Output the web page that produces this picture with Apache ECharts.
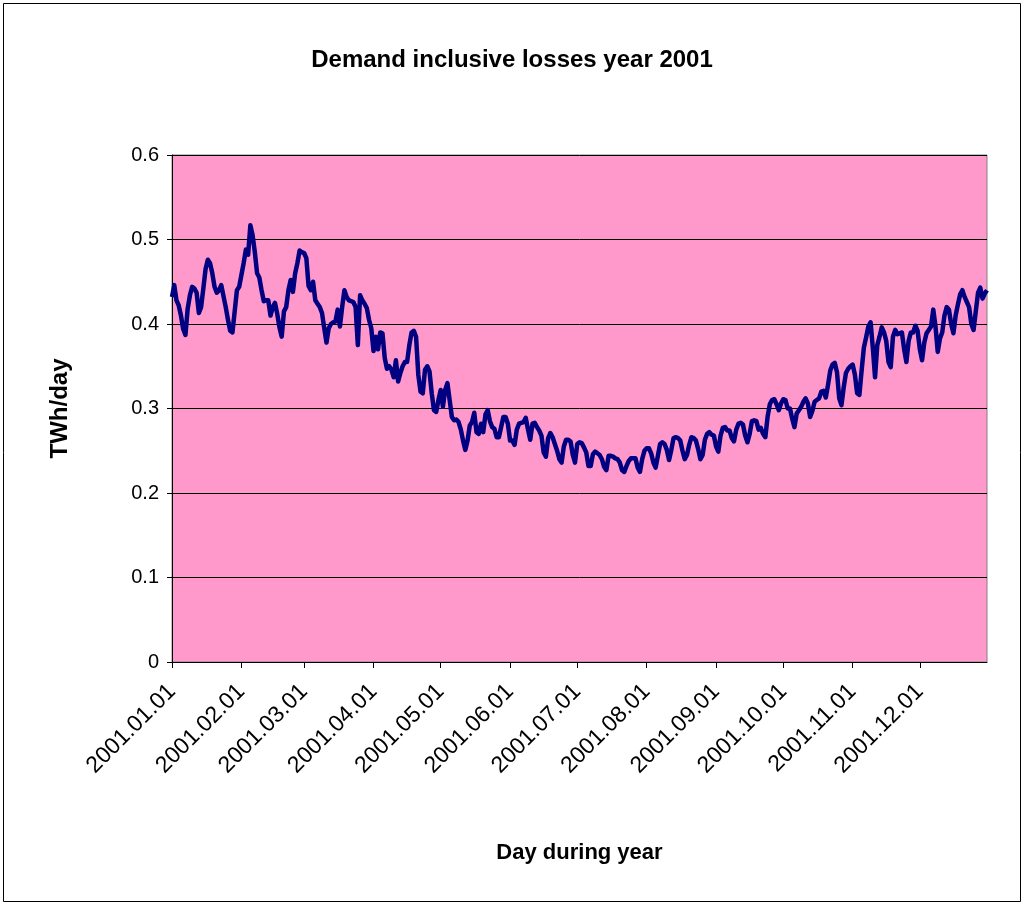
<!DOCTYPE html>
<html>
<head>
<meta charset="utf-8">
<script src="https://cdn.jsdelivr.net/npm/echarts@6/dist/echarts.min.js"></script>
<style>
  html, body { margin: 0; padding: 0; background: #fff; }
  #chart { width: 1024px; height: 905px; }
</style>
</head>
<body>
<div id="chart"></div>
<script>
// daily demand incl. losses, TWh/day
var jan = [0.432,0.446,0.428,0.422,0.410,0.394,0.387,0.418,0.434,0.444,0.442,0.437,0.413,0.420,0.442,0.465,0.476,0.472,0.460,0.444,0.437,0.440,0.446,0.433,0.420,0.405,0.392,0.390,0.415,0.440,0.444];
var feb = [0.458,0.472,0.488,0.482,0.517,0.505,0.485,0.460,0.455,0.440,0.427,0.428,0.428,0.410,0.420,0.425,0.412,0.396,0.385,0.415,0.420,0.440,0.452,0.438,0.460,0.472,0.487,0.485];
var mar = [0.484,0.478,0.445,0.440,0.450,0.428,0.424,0.420,0.413,0.395,0.378,0.395,0.400,0.402,0.403,0.417,0.397,0.420,0.440,0.432,0.428,0.427,0.426,0.420,0.375,0.434,0.428,0.424,0.419,0.405,0.395];
var apr = [0.368,0.385,0.370,0.390,0.389,0.360,0.347,0.350,0.346,0.337,0.357,0.332,0.342,0.350,0.355,0.355,0.375,0.390,0.392,0.385,0.340,0.320,0.318,0.346,0.350,0.344,0.318,0.298,0.296,0.310];
var may = [0.322,0.302,0.322,0.330,0.310,0.290,0.286,0.287,0.284,0.275,0.262,0.251,0.262,0.280,0.284,0.295,0.272,0.270,0.282,0.272,0.293,0.298,0.285,0.278,0.276,0.266,0.266,0.278,0.290,0.290,0.282];
var jun = [0.262,0.262,0.257,0.275,0.282,0.283,0.284,0.289,0.275,0.263,0.282,0.283,0.278,0.274,0.268,0.248,0.243,0.265,0.271,0.266,0.258,0.250,0.240,0.236,0.255,0.263,0.263,0.261,0.245,0.236];
var jul = [0.258,0.260,0.259,0.254,0.248,0.232,0.232,0.246,0.249,0.247,0.245,0.240,0.231,0.227,0.244,0.244,0.243,0.241,0.240,0.236,0.227,0.225,0.232,0.238,0.241,0.241,0.241,0.230,0.225,0.240,0.250];
var aug = [0.253,0.253,0.247,0.236,0.230,0.244,0.258,0.260,0.258,0.251,0.239,0.251,0.265,0.266,0.265,0.262,0.250,0.240,0.245,0.257,0.266,0.265,0.262,0.252,0.240,0.245,0.263,0.270,0.272,0.269,0.268];
var sep = [0.255,0.249,0.268,0.277,0.278,0.274,0.274,0.265,0.261,0.275,0.282,0.283,0.281,0.268,0.260,0.270,0.285,0.286,0.285,0.275,0.277,0.270,0.266,0.290,0.305,0.310,0.311,0.305,0.298,0.306];
var oct = [0.311,0.310,0.300,0.300,0.288,0.278,0.294,0.298,0.302,0.308,0.312,0.306,0.290,0.297,0.308,0.310,0.312,0.320,0.321,0.313,0.328,0.345,0.352,0.354,0.343,0.312,0.304,0.325,0.342,0.347,0.350];
var nov = [0.352,0.340,0.318,0.316,0.345,0.372,0.384,0.397,0.402,0.372,0.337,0.375,0.385,0.396,0.390,0.380,0.355,0.349,0.385,0.393,0.388,0.389,0.390,0.370,0.355,0.380,0.390,0.390,0.398,0.392];
var dec = [0.370,0.357,0.378,0.389,0.393,0.397,0.417,0.397,0.367,0.383,0.390,0.410,0.420,0.417,0.400,0.389,0.410,0.423,0.435,0.440,0.432,0.426,0.420,0.400,0.393,0.415,0.437,0.443,0.430,0.436,0.440];

var months = [jan, feb, mar, apr, may, jun, jul, aug, sep, oct, nov, dec];
var yTicks = [0, 0.1, 0.2, 0.3, 0.4, 0.5, 0.6];

function pad(n) { return n < 10 ? '0' + n : '' + n; }

var days = [];
var demand = [];
for (var m = 0; m < months.length; m++) {
    for (var d = 0; d < months[m].length; d++) {
        days.push('2001.' + pad(m + 1) + '.' + pad(d + 1));
        demand.push(months[m][d]);
    }
}

function isMonthStart(idx, val) {
    return /\.01$/.test(val);
}

var font = '"Liberation Sans", Arial, sans-serif';

var chart = echarts.init(document.getElementById('chart'));
chart.setOption({
    animation: false,
    backgroundColor: '#ffffff',
    textStyle: { fontFamily: font },
    graphic: [{
        type: 'rect',
        shape: { x: 3.5, y: 3.5, width: 1017, height: 898 },
        style: { fill: 'none', stroke: '#000', lineWidth: 1 },
        silent: true,
        z: -1
    }],
    title: {
        text: 'Demand inclusive losses year 2001',
        left: 'center',
        top: 43,
        textStyle: { fontFamily: font, fontSize: 24, fontWeight: 'bold', color: '#000' }
    },
    grid: {
        left: 172,
        right: 37,
        top: 155,
        bottom: 243,
        show: true,
        backgroundColor: '#FF99CC',
        borderColor: '#808080',
        borderWidth: 1
    },
    xAxis: {
        type: 'category',
        data: days,
        boundaryGap: false,
        name: 'Day during year',
        nameLocation: 'middle',
        nameGap: 180,
        nameTextStyle: { fontFamily: font, fontSize: 22, fontWeight: 'bold', color: '#000' },
        axisLine: { lineStyle: { color: '#000', width: 1 } },
        axisTick: { show: true, interval: isMonthStart, length: 6, lineStyle: { color: '#000' } },
        axisLabel: {
            interval: isMonthStart,
            rotate: 45,
            margin: 26,
            fontFamily: font,
            fontSize: 23,
            color: '#000'
        },
        splitLine: { show: false }
    },
    yAxis: {
        type: 'value',
        min: yTicks[0],
        max: yTicks[yTicks.length - 1],
        interval: 0.1,
        name: 'TWh/day',
        nameLocation: 'middle',
        nameGap: 100,
        nameTextStyle: { fontFamily: font, fontSize: 24, fontWeight: 'bold', color: '#000' },
        axisLine: { show: true, lineStyle: { color: '#000', width: 1 } },
        axisTick: { show: true, length: 5, lineStyle: { color: '#000' } },
        axisLabel: {
            margin: 13,
            fontFamily: font,
            fontSize: 20,
            color: '#000',
            formatter: function (v) { return +v.toFixed(1) + ''; }
        },
        splitLine: { show: true, lineStyle: { color: '#000', width: 1 } }
    },
    series: [{
        name: 'Demand',
        type: 'line',
        data: demand,
        showSymbol: false,
        symbol: 'none',
        lineStyle: { color: '#000080', width: 4.5, join: 'round' },
        itemStyle: { color: '#000080' }
    }]
});
</script>
</body>
</html>
